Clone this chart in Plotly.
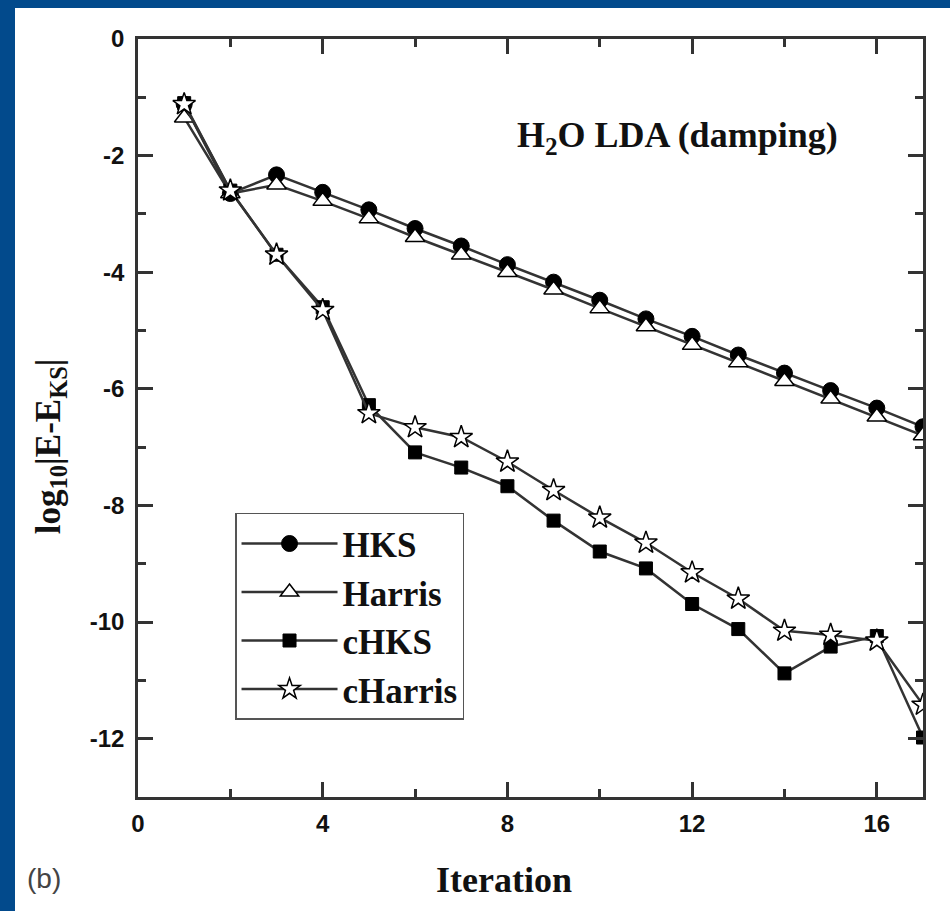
import plotly.graph_objects as go

iterations = list(range(1, 18))
hks = [-1.12, -2.65, -2.33, -2.63, -2.93, -3.25, -3.55, -3.87, -4.17, -4.48, -4.80, -5.10, -5.42, -5.73, -6.03, -6.33, -6.65]
harris = [-1.35, -2.65, -2.50, -2.78, -3.08, -3.40, -3.70, -4.00, -4.30, -4.62, -4.93, -5.25, -5.55, -5.87, -6.17, -6.48, -6.80]
chks = [-1.10, -2.60, -3.70, -4.60, -6.28, -7.09, -7.35, -7.67, -8.26, -8.79, -9.08, -9.69, -10.12, -10.88, -10.42, -10.24, -11.98]
charris = [-1.12, -2.60, -3.70, -4.65, -6.42, -6.66, -6.83, -7.25, -7.74, -8.21, -8.64, -9.15, -9.60, -10.15, -10.22, -10.32, -11.42]

x_ticks = [0, 4, 8, 12, 16]
y_ticks = [0, -2, -4, -6, -8, -10, -12]

LINE = "#333333"
SERIF = "Liberation Serif, Times New Roman, serif"
SANS = "Liberation Sans, Arial, sans-serif"

fig = go.Figure()
series = [
    ("HKS", hks, dict(symbol="circle", size=16, color="black", line=dict(color="black", width=1))),
    ("Harris", harris, dict(symbol="triangle-up", size=17, color="white", line=dict(color="black", width=1.5))),
    ("cHKS", chks, dict(symbol="square", size=13, color="black", line=dict(color="black", width=1))),
    ("cHarris", charris, dict(symbol="star", size=17, color="white", line=dict(color="black", width=1.5))),
]
for name, vals, mk in series:
    fig.add_trace(go.Scatter(x=iterations, y=vals, name=name, mode="lines+markers",
                             line=dict(color=LINE, width=2.5), marker=mk, cliponaxis=True))

axis_common = dict(showline=True, linecolor=LINE, linewidth=2.5, mirror="allticks",
                   ticks="inside", ticklen=15, tickwidth=2.5, tickcolor=LINE,
                   showgrid=False, zeroline=False,
                   tickfont=dict(family=SANS, size=24, color="#111111", weight="bold"))

fig.update_xaxes(range=[0, 17], tickvals=x_ticks, ticktext=[str(v) for v in x_ticks],
                 minor=dict(ticks="inside", ticklen=8, tickwidth=2.5, tickcolor=LINE, dtick=2, tick0=0),
                 ticklabelstandoff=3, **axis_common)
fig.update_yaxes(range=[-13, 0], tickvals=y_ticks, ticktext=[str(v) for v in y_ticks],
                 minor=dict(ticks="inside", ticklen=8, tickwidth=2.5, tickcolor=LINE, dtick=1, tick0=0),
                 ticklabelstandoff=6, **axis_common)

fig.update_layout(
    width=950, height=911,
    margin=dict(l=138, r=27, t=39, b=114),
    paper_bgcolor="white", plot_bgcolor="white",
    showlegend=True,
    legend=dict(x=0.1236, y=0.375, xanchor="left", yanchor="top",
                bordercolor="#555555", borderwidth=1.5, bgcolor="white",
                itemwidth=96, tracegroupgap=0,
                font=dict(family=SERIF, size=35, color="#111111", weight="bold")),
    shapes=[
        dict(type="rect", xref="paper", yref="paper", xsizemode="pixel", xanchor=0,
             x0=-140, x1=-123, y0=-0.3, y1=1.2, fillcolor="#024a8c", line=dict(width=0), layer="above"),
        dict(type="rect", xref="paper", yref="paper", ysizemode="pixel", yanchor=1,
             y0=31, y1=60, x0=-0.3, x1=1.2, fillcolor="#024a8c", line=dict(width=0), layer="above"),
    ],
    annotations=[
        dict(text="H<sub>2</sub>O LDA (damping)", xref="paper", yref="paper", x=0.687, y=0.870,
             xanchor="center", yanchor="middle", showarrow=False,
             font=dict(family=SERIF, size=36, color="#111111", weight="bold")),
        dict(text="Iteration", xref="paper", yref="paper", x=0.466, y=-0.11,
             xanchor="center", yanchor="middle", showarrow=False,
             font=dict(family=SERIF, size=36, color="#111111", weight="bold")),
        dict(text="log<sub>10</sub>|E-E<sub>KS</sub>|", xref="paper", yref="paper", x=-0.112, y=0.463,
             xanchor="center", yanchor="middle", textangle=-90, showarrow=False,
             font=dict(family=SERIF, size=35, color="#111111", weight="bold")),
        dict(text="(b)", xref="paper", yref="paper", x=-0.1197, y=-0.107,
             xanchor="center", yanchor="middle", showarrow=False,
             font=dict(family=SANS, size=28, color="#444444")),
    ],
)

fig.write_html("out.html")
